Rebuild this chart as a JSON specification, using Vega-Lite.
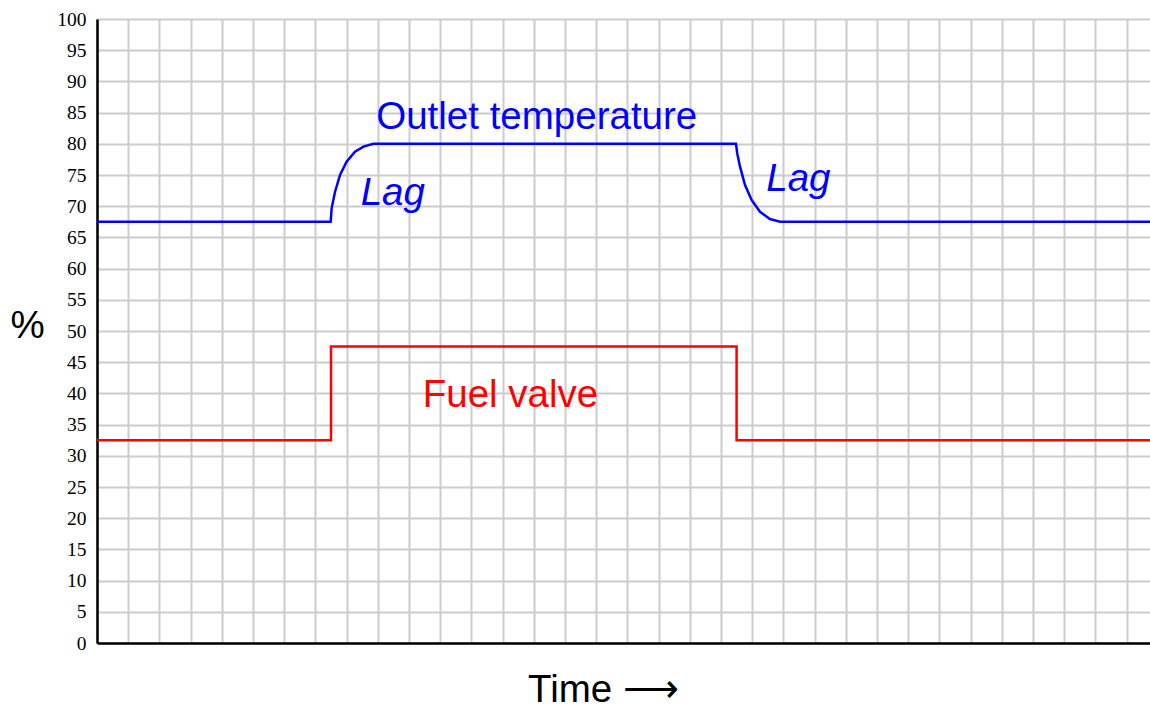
{
  "$schema": "https://vega.github.io/schema/vega-lite/v6.json",
  "autosize": "none",
  "padding": {"left": 97, "top": 19, "right": 0, "bottom": 64},
  "width": 1053,
  "height": 624,
  "background": "white",
  "config": {"view": {"stroke": null}},
  "datasets": {
    "lines": [
      {"series": "temperature", "i": 0, "t": 0, "v": 67.5},
      {"series": "temperature", "i": 1, "t": 7.49, "v": 67.5},
      {"series": "temperature", "i": 2, "t": 7.52, "v": 69.66},
      {"series": "temperature", "i": 3, "t": 7.63, "v": 72.32},
      {"series": "temperature", "i": 4, "t": 7.79, "v": 75.0},
      {"series": "temperature", "i": 5, "t": 8.0, "v": 77.13},
      {"series": "temperature", "i": 6, "t": 8.27, "v": 78.73},
      {"series": "temperature", "i": 7, "t": 8.54, "v": 79.54},
      {"series": "temperature", "i": 8, "t": 8.86, "v": 80},
      {"series": "temperature", "i": 9, "t": 20.48, "v": 80},
      {"series": "temperature", "i": 10, "t": 20.52, "v": 78.48},
      {"series": "temperature", "i": 11, "t": 20.61, "v": 76.33},
      {"series": "temperature", "i": 12, "t": 20.77, "v": 73.4},
      {"series": "temperature", "i": 13, "t": 20.98, "v": 71.0},
      {"series": "temperature", "i": 14, "t": 21.25, "v": 69.1},
      {"series": "temperature", "i": 15, "t": 21.57, "v": 67.95},
      {"series": "temperature", "i": 16, "t": 21.89, "v": 67.5},
      {"series": "temperature", "i": 17, "t": 33.75, "v": 67.5},
      {"series": "fuel", "i": 0, "t": 0, "v": 32.5},
      {"series": "fuel", "i": 1, "t": 7.5, "v": 32.5},
      {"series": "fuel", "i": 2, "t": 7.5, "v": 47.5},
      {"series": "fuel", "i": 3, "t": 20.5, "v": 47.5},
      {"series": "fuel", "i": 4, "t": 20.5, "v": 32.5},
      {"series": "fuel", "i": 5, "t": 33.75, "v": 32.5}
    ],
    "labels": [
      {"series": "temperature", "label": "Outlet temperature", "t": 8.95, "v": 82.45},
      {"series": "fuel", "label": "Fuel valve", "t": 10.44, "v": 37.87}
    ],
    "italicLabels": [
      {"series": "temperature", "label": "Lag", "t": 8.45, "v": 70.2},
      {"series": "temperature", "label": "Lag", "t": 21.45, "v": 72.5}
    ]
  },
  "encoding": {
    "x": {
      "field": "t", "type": "quantitative",
      "scale": {"domain": [0, 33.75], "nice": false, "zero": false},
      "axis": {
        "values": [0,1,2,3,4,5,6,7,8,9,10,11,12,13,14,15,16,17,18,19,20,21,22,23,24,25,26,27,28,29,30,31,32,33],
        "labels": false, "ticks": false,
        "grid": true, "gridColor": "#cccccc", "gridWidth": 2, "gridOpacity": 1,
        "domainColor": "#000000", "domainWidth": 2.5,
        "title": "Time ⟶",
        "titleFont": "Liberation Sans", "titleFontSize": 38.5, "titleFontWeight": "normal", "titleColor": "#000000",
        "titleAlign": "center", "titleBaseline": "alphabetic",
        "titleX": 506, "titleY": 58
      }
    },
    "y": {
      "field": "v", "type": "quantitative",
      "scale": {"domain": [0, 100], "nice": false},
      "axis": {
        "values": [0,5,10,15,20,25,30,35,40,45,50,55,60,65,70,75,80,85,90,95,100],
        "ticks": false, "labelPadding": 11,
        "labelFont": "Liberation Serif", "labelFontSize": 19.5, "labelColor": "#000000",
        "grid": true, "gridColor": "#cccccc", "gridWidth": 2, "gridOpacity": 1,
        "domainColor": "#000000", "domainWidth": 2.5,
        "title": "%", "titleAngle": 0,
        "titleFont": "Liberation Sans", "titleFontSize": 38.5, "titleFontWeight": "normal", "titleColor": "#000000",
        "titleAlign": "center", "titleBaseline": "middle",
        "titleX": -70, "titleY": 306
      }
    },
    "color": {
      "field": "series", "type": "nominal",
      "scale": {"domain": ["temperature", "fuel"], "range": ["#0000ff", "#ff0000"]},
      "legend": null
    }
  },
  "layer": [
    {
      "data": {"name": "lines"},
      "mark": {"type": "line", "strokeWidth": 2.5, "interpolate": "linear"},
      "encoding": {"order": {"field": "i", "type": "quantitative"}}
    },
    {
      "data": {"name": "labels"},
      "mark": {"type": "text", "align": "left", "baseline": "alphabetic", "font": "Liberation Sans", "fontSize": 38.5},
      "encoding": {"text": {"field": "label"}}
    },
    {
      "data": {"name": "italicLabels"},
      "mark": {"type": "text", "align": "left", "baseline": "alphabetic", "font": "Liberation Sans", "fontSize": 38.5, "fontStyle": "italic"},
      "encoding": {"text": {"field": "label"}}
    }
  ]
}
